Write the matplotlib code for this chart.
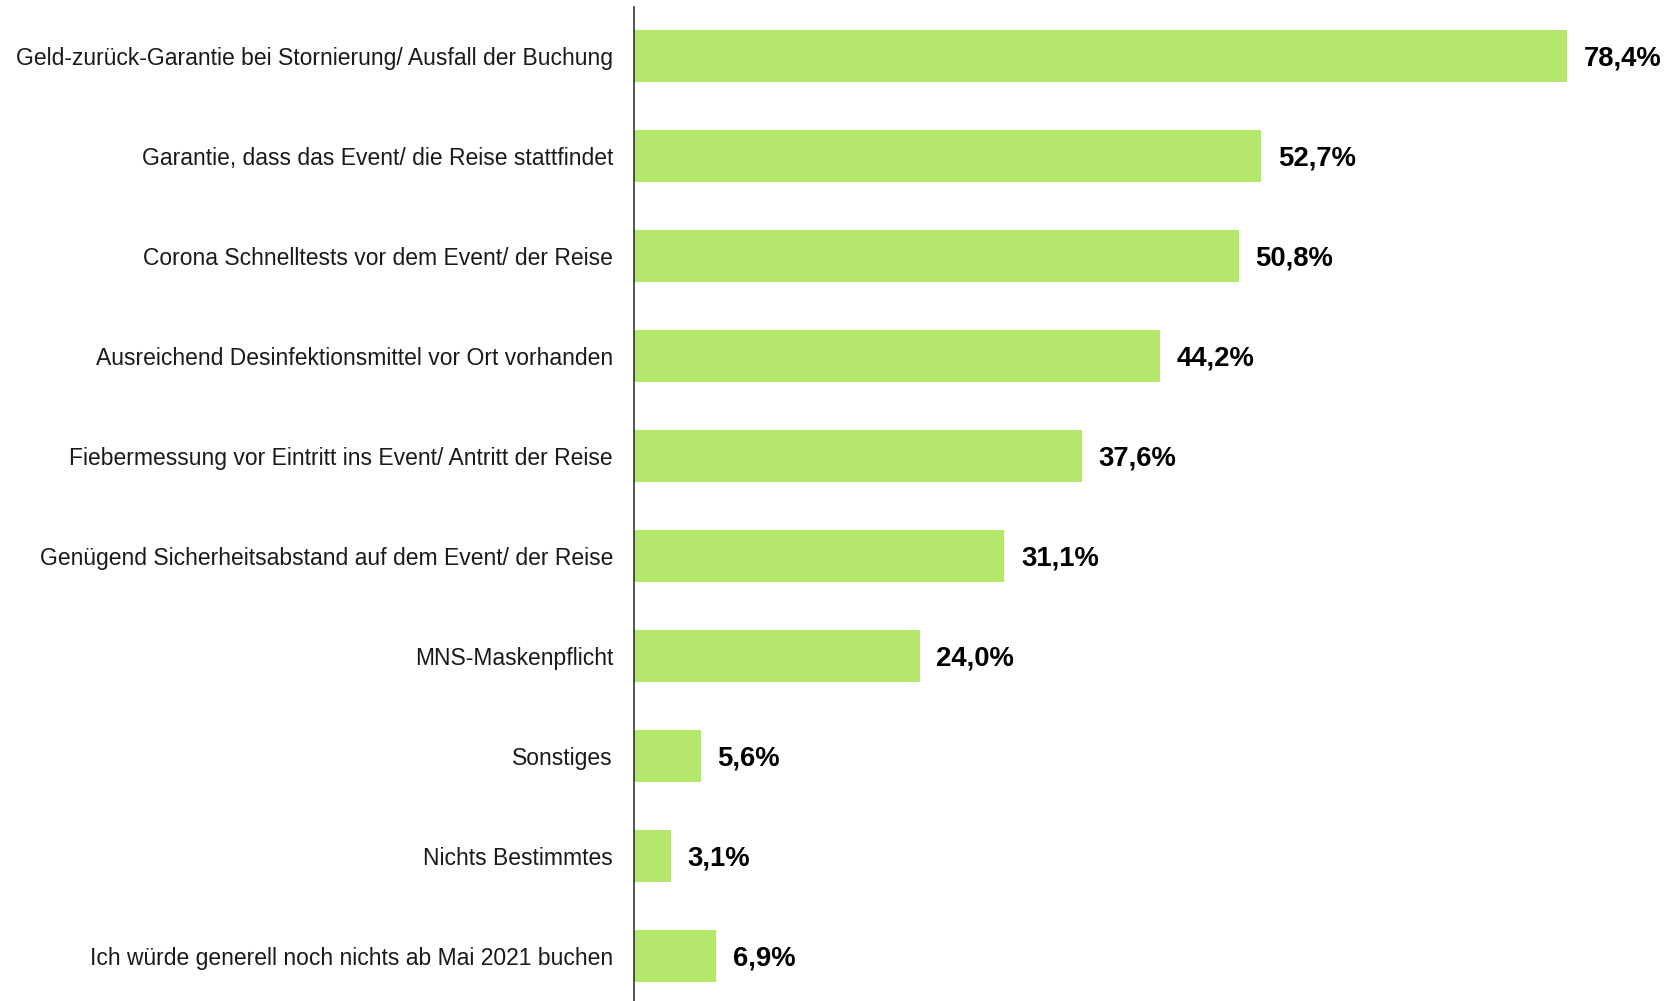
import numpy as np
import matplotlib.pyplot as plt

plt.rcParams['font.family'] = ['Liberation Sans', 'DejaVu Sans']

categories = [
    'Geld-zurück-Garantie bei Stornierung/ Ausfall der Buchung',
    'Garantie, dass das Event/ die Reise stattfindet',
    'Corona Schnelltests vor dem Event/ der Reise',
    'Ausreichend Desinfektionsmittel vor Ort vorhanden',
    'Fiebermessung vor Eintritt ins Event/ Antritt der Reise',
    'Genügend Sicherheitsabstand auf dem Event/ der Reise',
    'MNS-Maskenpflicht',
    'Sonstiges',
    'Nichts Bestimmtes',
    'Ich würde generell noch nichts ab Mai 2021 buchen',
]
values = [78.4, 52.7, 50.8, 44.2, 37.6, 31.1, 24.0, 5.6, 3.1, 6.9]

fig = plt.figure(figsize=(16.77, 10.01), dpi=100)
ax = fig.add_axes([0.378, 0.0, 0.622, 0.993])

y = np.arange(len(categories))
bars = ax.barh(y, values, height=0.52, color='#b3e66b')

for rect, v in zip(bars, values):
    ax.annotate(f'{v:.1f}%'.replace('.', ','),
                (rect.get_width(), rect.get_y() + rect.get_height() / 2),
                xytext=(12, -2), textcoords='offset points',
                ha='left', va='center', fontsize=19.8, fontweight='bold', color='black')

ax.set_yticks(y)
ax.set_yticklabels(categories, fontsize=16.5, color='#1a1a1a')
ax.tick_params(axis='y', length=0, pad=15)
ax.set_ylim(len(categories) - 1 + 0.45, -0.49)
ax.set_xlim(0, 87.6)
ax.set_xticks([])

for s in ['top', 'right', 'bottom']:
    ax.spines[s].set_visible(False)
ax.spines['left'].set_color('#333333')
ax.spines['left'].set_linewidth(1.2)

plt.savefig('out.png', dpi=100)
